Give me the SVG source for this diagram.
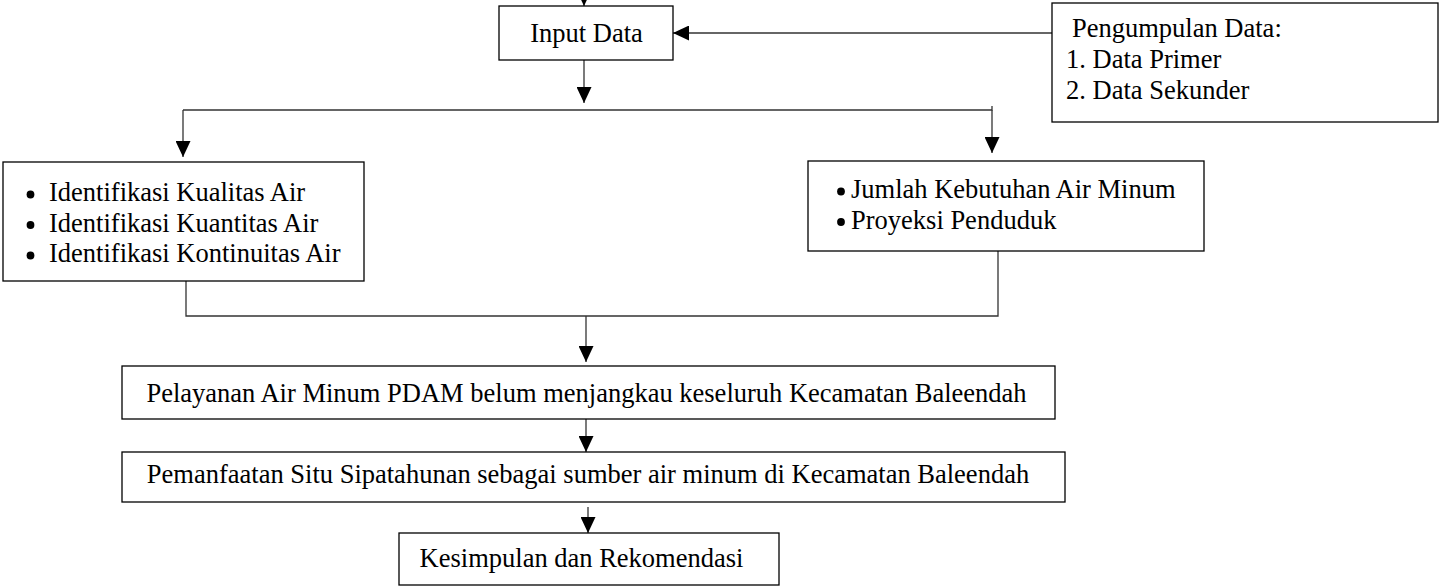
<svg xmlns="http://www.w3.org/2000/svg" width="1439" height="587" viewBox="0 0 1439 587">
<style>
.box{fill:#fff;stroke:#000;stroke-width:1.3}
.ln{fill:none;stroke:#333;stroke-width:1.3}
text{font-family:"Liberation Serif","Times New Roman",serif;font-size:26.5px;fill:#000}
.c{text-anchor:middle}
</style>
<defs>
<marker id="ah" viewBox="0 0 16 15" markerWidth="16" markerHeight="15" refX="16" refY="7.5" orient="auto" markerUnits="userSpaceOnUse">
<path d="M0,0 L16,7.5 L0,15 z" fill="#000"/>
</marker>
</defs>
<rect width="1439" height="587" fill="#fff"/>
<g id="connectors">
<line class="ln" x1="584" y1="-20" x2="584" y2="6" marker-end="url(#ah)"/>
<line class="ln" x1="1052" y1="33" x2="673" y2="33" marker-end="url(#ah)"/>
<line class="ln" x1="584" y1="60" x2="584" y2="103" marker-end="url(#ah)"/>
<polyline class="ln" points="183,110 992,110 992,106"/>
<line class="ln" x1="183" y1="110" x2="183" y2="157" marker-end="url(#ah)"/>
<line class="ln" x1="992" y1="110" x2="992" y2="153" marker-end="url(#ah)"/>
<polyline class="ln" points="186,281 186,316 998,316 998,251"/>
<line class="ln" x1="586" y1="316" x2="586" y2="362" marker-end="url(#ah)"/>
<line class="ln" x1="586" y1="419" x2="586" y2="452" marker-end="url(#ah)"/>
<line class="ln" x1="588" y1="507" x2="588" y2="533" marker-end="url(#ah)"/>
</g>
<g id="input-data">
<rect class="box" x="499" y="6" width="174" height="54"/>
<text class="c" x="586.5" y="42">Input Data</text>
</g>
<g id="pengumpulan-data">
<rect class="box" x="1052" y="3" width="386" height="119"/>
<text x="1072" y="37">Pengumpulan Data:</text>
<text x="1066" y="68">1. Data Primer</text>
<text x="1066" y="99">2. Data Sekunder</text>
</g>
<g id="identifikasi">
<rect class="box" x="3" y="162" width="361" height="119"/>
<circle cx="30.5" cy="194.5" r="3.9"/>
<circle cx="30.5" cy="225" r="3.9"/>
<circle cx="30.5" cy="255.5" r="3.9"/>
<text x="49" y="201">Identifikasi Kualitas Air</text>
<text x="49" y="231.5">Identifikasi Kuantitas Air</text>
<text x="49" y="262">Identifikasi Kontinuitas Air</text>
</g>
<g id="kebutuhan">
<rect class="box" x="808" y="161" width="396" height="90"/>
<circle cx="841" cy="191.5" r="3.9"/>
<circle cx="841" cy="222" r="3.9"/>
<text x="851" y="198">Jumlah Kebutuhan Air Minum</text>
<text x="851" y="228.5">Proyeksi Penduduk</text>
</g>
<g id="pelayanan">
<rect class="box" x="122" y="366" width="933" height="53"/>
<text class="c" x="586.5" y="402">Pelayanan Air Minum PDAM belum menjangkau keseluruh Kecamatan Baleendah</text>
</g>
<g id="pemanfaatan">
<rect class="box" x="122" y="452" width="943" height="50"/>
<text class="c" x="588" y="483">Pemanfaatan Situ Sipatahunan sebagai sumber air minum di Kecamatan Baleendah</text>
</g>
<g id="kesimpulan">
<rect class="box" x="399" y="533" width="380" height="52"/>
<text class="c" x="581.5" y="567">Kesimpulan dan Rekomendasi</text>
</g>
</svg>
